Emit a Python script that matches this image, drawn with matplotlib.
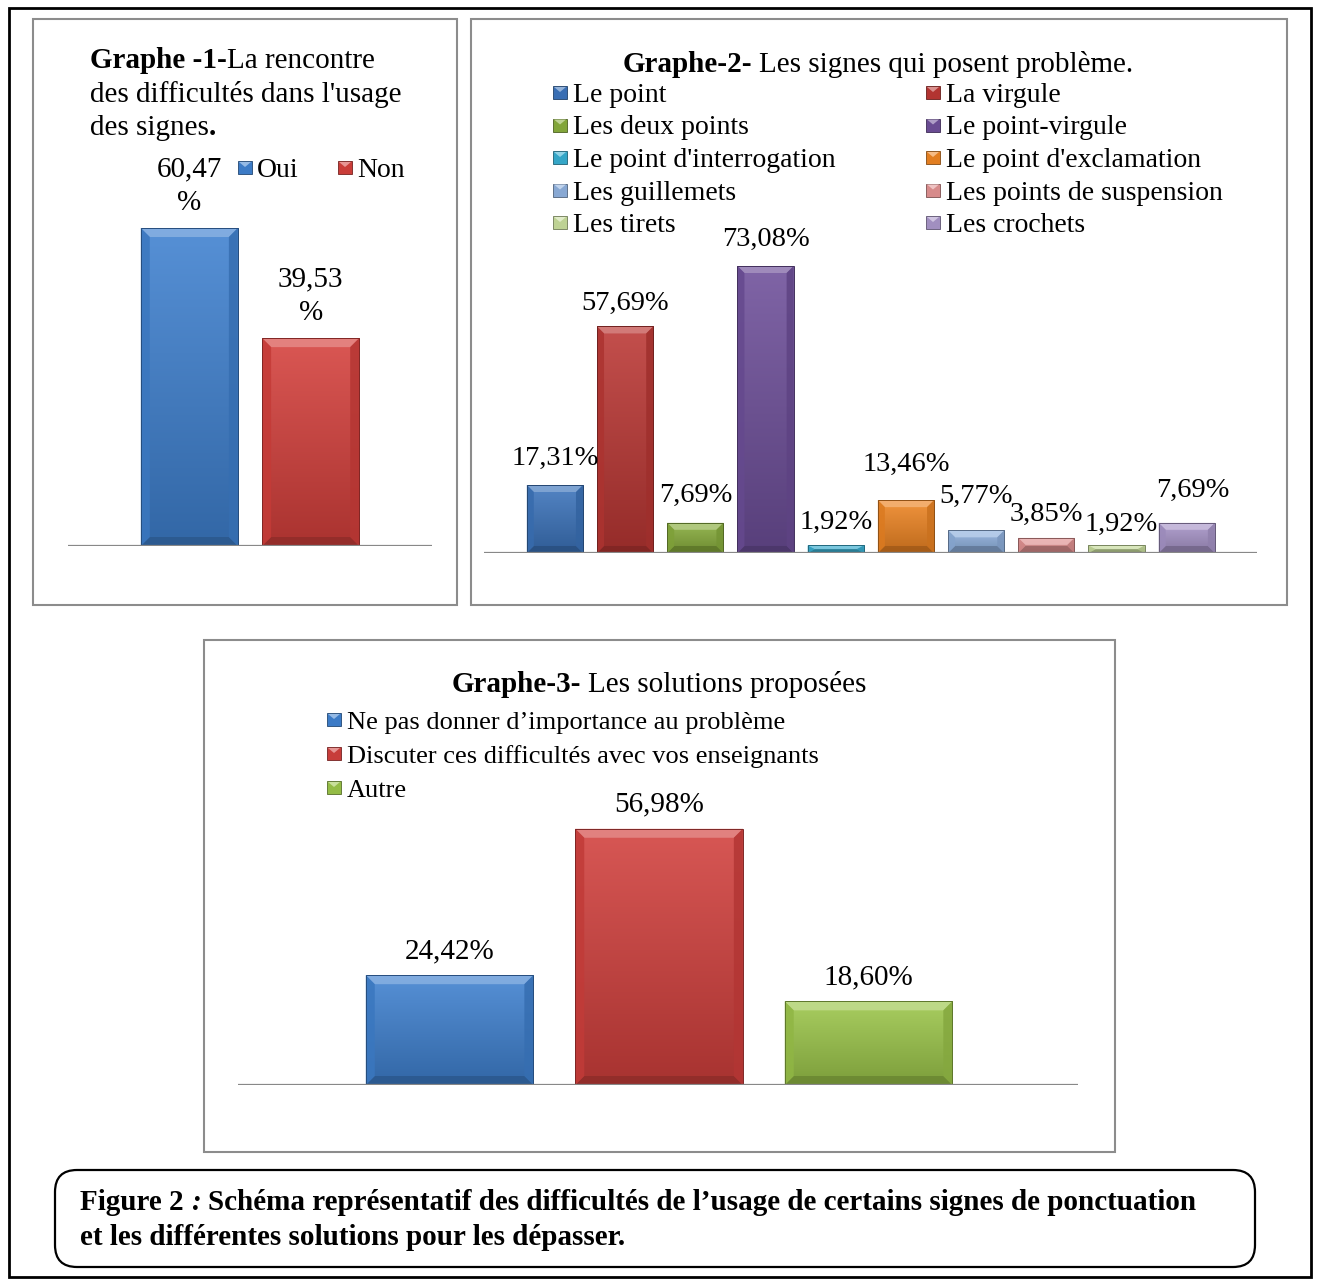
import numpy as np
import matplotlib
matplotlib.use("Agg")
import matplotlib.pyplot as plt
from matplotlib.patches import Rectangle, Polygon, FancyBboxPatch
from matplotlib.colors import to_rgb

plt.rcParams['font.family'] = ['Liberation Serif', 'DejaVu Serif']

# Graphe 1 : rencontre des difficultés
g1_labels = ["Oui", "Non"]
g1_values = [60.47, 39.53]
g1_colors = ["#3f81d0", "#d5403c"]

# Graphe 2 : signes qui posent problème
g2_labels = ["Le point", "La virgule", "Les deux points", "Le point-virgule",
             "Le point d'interrogation", "Le point d'exclamation", "Les guillemets",
             "Les points de suspension", "Les tirets", "Les crochets"]
g2_values = [17.31, 57.69, 7.69, 73.08, 1.92, 13.46, 5.77, 3.85, 1.92, 7.69]
g2_colors = ["#3c74bc", "#bb3734", "#89ae3d", "#6e4f9a", "#38afd2",
             "#ee8523", "#8fb1de", "#e29292", "#c8dd9c", "#a996ca"]
# label nudges (pixels): gap above bar top, horizontal shift
g2_gap = [20, 17, 21, 20, 17, 29, 27, 17, 15, 26]
g2_dx = [0, 0, 0, 0, 0, 0, 0, 0, 5, 6]

# Graphe 3 : solutions proposées
g3_labels = ["Ne pas donner d’importance au problème",
             "Discuter ces difficultés avec vos enseignants",
             "Autre"]
g3_values = [24.42, 56.98, 18.60]
g3_colors = ["#3f81d0", "#d2403d", "#9cc64a"]

W, H = 1317, 1281
TITLE_FS = 21
LEG_FS = 20
LAB_FS = 20.5

fig = plt.figure(figsize=(W / 100, H / 100), dpi=100)
canvas = fig.add_axes([0, 0, 1, 1])
canvas.set_xlim(0, W)
canvas.set_ylim(H, 0)
canvas.axis('off')
renderer = fig.canvas.get_renderer()


def shade(c, f):
    c = np.array(to_rgb(c))
    if f >= 0:
        return tuple(c + (1 - c) * f)
    return tuple(c * (1 + f))


def pct(v):
    return f"{v:.2f}".replace(".", ",") + "%"


def rich(x, y, parts, size=TITLE_FS, ha="left"):
    """Write a line made of several (text, weight, style) runs."""
    items = []
    for s, weight, style in parts:
        lead = s.startswith(" ")
        t = canvas.text(0, y, s.strip(), fontsize=size, fontweight=weight,
                        fontstyle=style, va="baseline", ha="left")
        items.append((t, lead, t.get_window_extent(renderer).width))
    sp = size * 100 / 72 * 0.25
    total = sum(w for _, _, w in items) + sp * sum(l for _, l, _ in items)
    cur = x - total / 2 if ha == "center" else x
    for t, lead, w in items:
        if lead:
            cur += sp
        t.set_x(cur)
        cur += w


def marker(x, yb, color):
    top = yb - 16
    canvas.add_patch(Rectangle((x, top), 14, 13, facecolor=shade(color, -0.05),
                               edgecolor=shade(color, -0.45), lw=0.6))
    canvas.add_patch(Polygon([(x + 1, top + 1), (x + 13, top + 1), (x + 7, top + 6)],
                             facecolor=shade(color, 0.45), lw=0))


def px_axes(x0, y0, x1, y1):
    ax = fig.add_axes([x0 / W, 1 - y1 / H, (x1 - x0) / W, (y1 - y0) / H])
    ax.patch.set_alpha(0)
    ax.axis('off')
    return ax


def bevel_bars(ax, values, colors, xlim, ylim, bev=8):
    x = np.arange(len(values))
    bars = ax.bar(x, values, width=0.8, color=colors, zorder=2)
    bb = ax.get_position()
    sx = (xlim[1] - xlim[0]) / (bb.width * W)
    sy = (ylim[1] - ylim[0]) / (bb.height * H)
    for rect, c in zip(bars, colors):
        x0, w, v = rect.get_x(), rect.get_width(), rect.get_height()
        x1 = x0 + w
        g = np.linspace(0, 1, 64)[:, None, None]
        img = np.array(shade(c, 0.12)) * (1 - g) + np.array(shade(c, -0.2)) * g
        im = ax.imshow(img, extent=(x0, x1, 0, v), aspect='auto', zorder=2.1,
                       interpolation='bilinear')
        im.set_clip_path(rect)
        dx = min(bev * sx, w / 2)
        dy = min(bev * sy, v / 2)
        faces = [
            ([(x0, v), (x1, v), (x1 - dx, v - dy), (x0 + dx, v - dy)], shade(c, 0.38)),
            ([(x0, 0), (x1, 0), (x1 - dx, dy), (x0 + dx, dy)], shade(c, -0.32)),
            ([(x0, 0), (x0, v), (x0 + dx, v - dy), (x0 + dx, dy)], shade(c, -0.08)),
            ([(x1, 0), (x1, v), (x1 - dx, v - dy), (x1 - dx, dy)], shade(c, -0.15)),
        ]
        for pts, fc in faces:
            ax.add_patch(Polygon(pts, facecolor=fc, lw=0, alpha=0.85, zorder=2.2))
        ax.add_patch(Rectangle((x0, 0), w, v, fill=False, edgecolor=shade(c, -0.4),
                               lw=0.7, zorder=2.3))
    ax.axhline(0, color="#888888", lw=1.6, zorder=3)
    ax.set_xlim(*xlim)
    ax.set_ylim(*ylim)
    return bars


# outer frame and chart frames
canvas.add_patch(Rectangle((9, 8), 1302, 1269, fill=False, edgecolor="black", lw=2))
for (x0, y0, x1, y1) in [(33, 19, 457, 605), (471, 19, 1287, 605), (204, 640, 1115, 1152)]:
    canvas.add_patch(Rectangle((x0, y0), x1 - x0, y1 - y0, fill=False,
                               edgecolor="#8c8c8c", lw=1.5))

# ---- Graphe 1 ----
rich(90, 68, [("Graphe -1-", "bold", "normal"), ("La rencontre", "normal", "normal")])
rich(90, 102, [("des difficultés dans l'usage", "normal", "normal")])
rich(90, 135, [("des signes", "normal", "normal"), (".", "bold", "normal")])
for i, (lab, c) in enumerate(zip(g1_labels, g1_colors)):
    marker(238 + 100 * i, 177, c)
    canvas.text(257 + 100 * i, 177, lab, fontsize=LEG_FS, va="baseline")

ax1 = px_axes(68, 150, 432, 546)
b1 = bevel_bars(ax1, g1_values, g1_colors, (-1, 2), (0, 75.3), bev=9)
for rect, v in zip(b1, g1_values):
    ax1.annotate(f"{v:.2f}".replace(".", ",") + "\n%",
                 (rect.get_x() + rect.get_width() / 2, v), xytext=(0, 12 * 0.72),
                 textcoords="offset points", ha="center", va="bottom",
                 fontsize=21, linespacing=1.4)

# ---- Graphe 2 ----
rich(878, 72, [("Graphe-2-", "bold", "normal"),
               (" Les signes qui posent problème.", "normal", "normal")], ha="center")
for i, (lab, c) in enumerate(zip(g2_labels, g2_colors)):
    col, row = i % 2, i // 2
    tx = 573 if col == 0 else 946
    yb = 102 + 32.5 * row
    marker(tx - 20, yb, c)
    canvas.text(tx, yb, lab, fontsize=LEG_FS, va="baseline")

ax2 = px_axes(484, 240, 1257, 553)
b2 = bevel_bars(ax2, g2_values, g2_colors, (-1.01, 10.0), (0, 79.7), bev=7)
for rect, v, gap, dx in zip(b2, g2_values, g2_gap, g2_dx):
    ax2.annotate(pct(v), (rect.get_x() + rect.get_width() / 2, v),
                 xytext=(dx * 0.72, gap * 0.72), textcoords="offset points",
                 ha="center", va="baseline", fontsize=LAB_FS)

# ---- Graphe 3 ----
rich(659, 692, [("Graphe-3-", "bold", "normal"),
                (" Les solutions proposées", "normal", "normal")], ha="center")
for i, (lab, c) in enumerate(zip(g3_labels, g3_colors)):
    yb = 729 + 34 * i
    marker(327, yb, c)
    canvas.text(347, yb, lab, fontsize=19, va="baseline")

ax3 = px_axes(238, 790, 1078, 1085)
b3 = bevel_bars(ax3, g3_values, g3_colors, (-1.01, 3.0), (0, 65.6), bev=9)
for rect, v in zip(b3, g3_values):
    ax3.annotate(pct(v), (rect.get_x() + rect.get_width() / 2, v),
                 xytext=(0, 17 * 0.72), textcoords="offset points",
                 ha="center", va="baseline", fontsize=21)

# ---- caption ----
canvas.add_patch(FancyBboxPatch((55, 1170), 1200, 97,
                                boxstyle="round,pad=0,rounding_size=22",
                                fill=False, edgecolor="black", lw=1.6))
rich(80, 1210, [("Figure 2", "bold", "normal"), (" :", "bold", "italic"),
                (" Schéma représentatif des difficultés de l’usage de certains signes de ponctuation",
                 "bold", "normal")], size=21)
rich(80, 1245, [("et les différentes solutions pour les dépasser.", "bold", "normal")], size=21)

fig.savefig("out.png", dpi=100)
